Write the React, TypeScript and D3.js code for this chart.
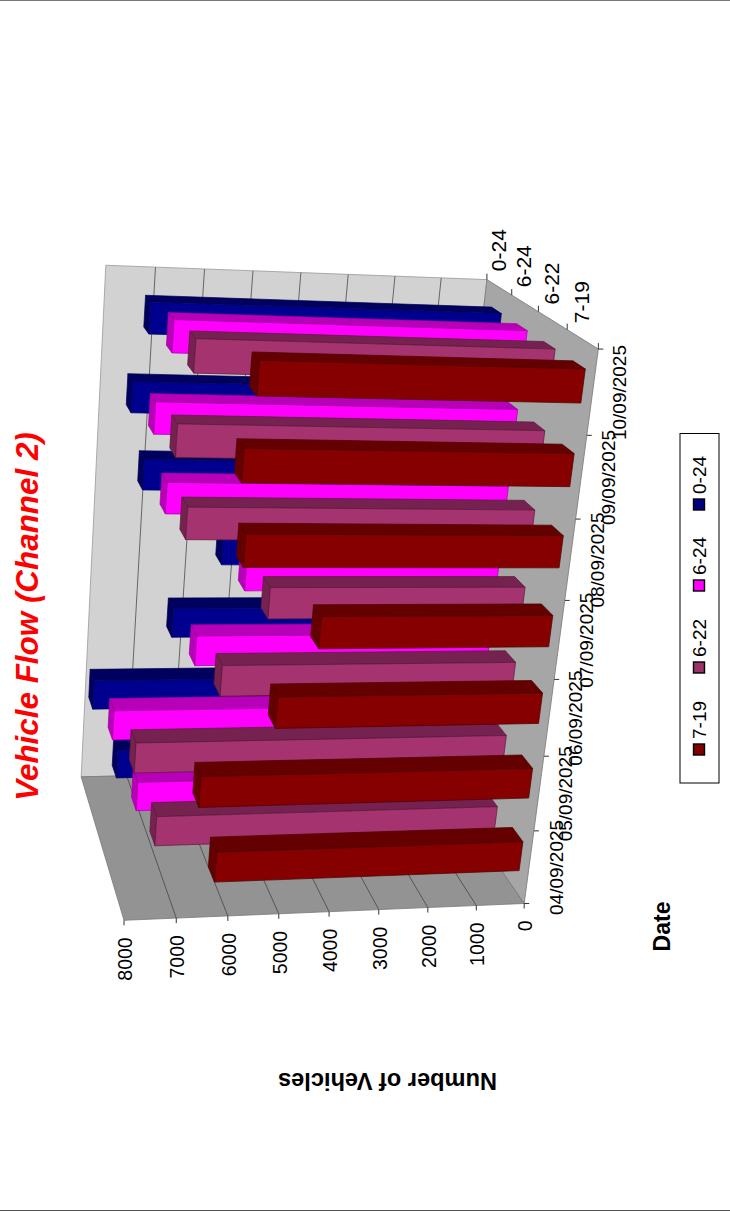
import React from "react";
import * as d3 from "d3";

// Traffic counts per day, one array per time band.
const dates = ["04/09/2025", "05/09/2025", "06/09/2025", "07/09/2025", "08/09/2025", "09/09/2025", "10/09/2025"];
const bands = ["7-19", "6-22", "6-24", "0-24"];
const flow719 = [6200, 6610, 5250, 4550, 6100, 6250, 6090];
const flow622 = [7100, 7600, 6000, 5170, 6880, 7170, 6930];
const flow624 = [7230, 7800, 6210, 5300, 7000, 7320, 7060];
const flow024 = [7410, 7990, 6410, 5460, 7200, 7520, 7250];
const valueTicks = [0, 1000, 2000, 3000, 4000, 5000, 6000, 7000, 8000];

const faceColors = ["#870000", "#A5336F", "#FF00FF", "#00008F"];
const sideColors = ["#640000", "#762250", "#B800B8", "#00005F"];
const swatchColors = ["#800000", "#993366", "#FF00FF", "#000080"];

type Vec3 = [number, number, number];
type Pair = [Vec3, [number, number]];

// Known points of the unit plot box (value, date, depth) on the page.
const boxCorners: Pair[] = [
  [[0, 0, 0], [524, 903]],
  [[1, 0, 0], [124, 920]],
  [[0, 1, 0], [598, 351]],
  [[0, 1, 1], [487, 281]],
  [[1, 1, 1], [106, 265]],
  [[1, 0, 1], [81, 777]],
  [[0, 3 / 7, 0], [555, 680]],
  [[0.5, 0, 0], [329, 912]],
  [[0.5, 1, 1], [301, 273]],
  [[0, 1, 0.5], [538, 308]],
];

// Least-squares fit of a 3x4 perspective matrix with its last element fixed at 1.
function fitCamera(pairs: Pair[]): number[] {
  const rows: number[][] = [];
  const rhs: number[] = [];
  for (const [[a, b, c], [x, y]] of pairs) {
    rows.push([a, b, c, 1, 0, 0, 0, 0, -x * a, -x * b, -x * c]);
    rhs.push(x);
    rows.push([0, 0, 0, 0, a, b, c, 1, -y * a, -y * b, -y * c]);
    rhs.push(y);
  }
  const n = 11;
  const m: number[][] = d3.range(n).map((i) =>
    d3.range(n + 1).map((j) =>
      d3.sum(rows, (r, k) => r[i] * (j === n ? rhs[k] : r[j]))
    )
  );
  for (let i = 0; i < n; i++) {
    let p = i;
    for (let r = i + 1; r < n; r++) if (Math.abs(m[r][i]) > Math.abs(m[p][i])) p = r;
    [m[i], m[p]] = [m[p], m[i]];
    for (let r = 0; r < n; r++) {
      if (r === i) continue;
      const f = m[r][i] / m[i][i];
      for (let c = i; c <= n; c++) m[r][c] -= f * m[i][c];
    }
  }
  return d3.range(n).map((i) => m[i][n] / m[i][i]);
}

const cam = fitCamera(boxCorners);
const project = (u: number, w: number, t: number): [number, number] => {
  const d = cam[8] * u + cam[9] * w + cam[10] * t + 1;
  return [
    (cam[0] * u + cam[1] * w + cam[2] * t + cam[3]) / d,
    (cam[4] * u + cam[5] * w + cam[6] * t + cam[7]) / d,
  ];
};

const valueScale = d3.scaleLinear().domain([0, 8000]).range([0, 1]);
// Gap width and gap depth of 150% leave each bar 40% of its slot.
const dateScale = d3.scaleBand().domain(dates).range([0, 1]).paddingInner(0.6).paddingOuter(0.3);
const depthScale = d3.scaleBand().domain(bands).range([0, 1]).paddingInner(0.6).paddingOuter(0.3);
const dateSlot = d3.scaleBand().domain(dates).range([0, 1]);
const depthSlot = d3.scaleBand().domain(bands).range([0, 1]);

const pts = (corners: [number, number][]) => corners.map((p) => p.join(",")).join(" ");
const line = (a: [number, number], b: [number, number], stroke: string, w = 1) => (
  <line x1={a[0]} y1={a[1]} x2={b[0]} y2={b[1]} stroke={stroke} strokeWidth={w} />
);

function Bar({ band, date, value, i }: { band: string; date: string; value: number; i: number }) {
  const u = valueScale(value);
  const w0 = dateScale(date)!;
  const w1 = w0 + dateScale.bandwidth();
  const t0 = depthScale(band)!;
  const t1 = t0 + depthScale.bandwidth();
  const edge = ["#4a0000", "#5a1a3c", "#A000A0", "#000050"][i];
  return (
    <g stroke={edge} strokeWidth={0.7} strokeLinejoin="round">
      <polygon fill={sideColors[i]} points={pts([project(0, w1, t0), project(u, w1, t0), project(u, w1, t1), project(0, w1, t1)])} />
      <polygon fill={sideColors[i]} points={pts([project(u, w0, t0), project(u, w1, t0), project(u, w1, t1), project(u, w0, t1)])} />
      <polygon fill={faceColors[i]} points={pts([project(0, w0, t0), project(u, w0, t0), project(u, w1, t0), project(0, w1, t0)])} />
    </g>
  );
}

const font = "'Liberation Sans', Arial, sans-serif";

export default function App() {
  const series = [flow719, flow622, flow624, flow024];
  const legendY = [744, 662, 580, 499];
  return (
    <svg width={730} height={1212} style={{ position: "absolute", left: 0, top: 0, display: "block" }} fontFamily={font}>
      <rect width={730} height={1212} fill="#fff" />
      <line x1={0} y1={0.5} x2={730} y2={0.5} stroke="#777" />
      <line x1={0} y1={1210.5} x2={730} y2={1210.5} stroke="#555" />

      {/* Back wall, side wall and floor of the plot box */}
      <polygon fill="#D2D2D2" stroke="#999" strokeWidth={0.8} points={pts([project(0, 0, 1), project(1, 0, 1), project(1, 1, 1), project(0, 1, 1)])} />
      <polygon fill="#939393" stroke="#777" strokeWidth={0.8} points={pts([project(0, 0, 0), project(1, 0, 0), project(1, 0, 1), project(0, 0, 1)])} />
      <polygon fill="#A6A6A6" stroke="#777" strokeWidth={0.8} points={pts([project(0, 0, 0), project(0, 1, 0), project(0, 1, 1), project(0, 0, 1)])} />

      {valueTicks.slice(1, -1).map((v) => {
        const u = valueScale(v);
        return (
          <g key={v}>
            {line(project(u, 1, 1), project(u, 0, 1), "#666", 1)}
            {line(project(u, 0, 1), project(u, 0, 0), "#555", 1)}
          </g>
        );
      })}

      {/* Bars, painted from the back row to the front row */}
      {d3.range(3, -1, -1).map((i) =>
        dates.map((d, j) => <Bar key={bands[i] + d} band={bands[i]} date={d} value={series[i][j]} i={i} />)
      )}

      {/* Value axis */}
      {valueTicks.map((v) => {
        const [x, y] = project(valueScale(v), 0, 0);
        return (
          <g key={v}>
            <line x1={x} y1={y} x2={x} y2={y + 5} stroke="#333" />
            <text transform={`translate(${x + 1},${y + 17}) rotate(-90)`} textAnchor="end" dominantBaseline="central" fontSize={19.5} fill="#000">{v}</text>
          </g>
        );
      })}

      {/* Date axis */}
      {d3.range(dates.length + 1).map((k) => {
        const [x, y] = project(0, k / dates.length, 0);
        return <line key={k} x1={x} y1={y} x2={x + 5} y2={y} stroke="#333" />;
      })}
      {dates.map((d) => {
        const [x, y] = project(0, dateSlot(d)! + dateSlot.bandwidth() / 2, 0);
        return (
          <text key={d} transform={`translate(${x + 27},${y}) rotate(-90)`} textAnchor="middle" dominantBaseline="central" fontSize={19} fill="#000">{d}</text>
        );
      })}

      {/* Depth axis */}
      {d3.range(bands.length + 1).map((k) => {
        const [x, y] = project(0, 1, k / bands.length);
        return <line key={k} x1={x} y1={y} x2={x} y2={y - 6} stroke="#333" />;
      })}
      {bands.map((b) => {
        const [x, y] = project(0, 1, depthSlot(b)! + depthSlot.bandwidth() / 2);
        return (
          <text key={b} transform={`translate(${x - 1},${y - 16}) rotate(-90)`} textAnchor="start" dominantBaseline="central" fontSize={21} fill="#000">{b}</text>
        );
      })}

      {/* Titles */}
      <text transform="translate(27,616.5) rotate(-90)" textAnchor="middle" dominantBaseline="central" fontSize={31.4} fontWeight="bold" fontStyle="italic" fill="#FF0000">Vehicle Flow (Channel 2)</text>
      <text transform="translate(662,926.5) rotate(-90)" textAnchor="middle" dominantBaseline="central" fontSize={23} fontWeight="bold" fill="#000">Date</text>
      <text transform="translate(387.5,1081) rotate(180)" textAnchor="middle" dominantBaseline="central" fontSize={23.6} fontWeight="bold" fill="#000">Number of Vehicles</text>

      {/* Legend */}
      <rect x={680} y={433.5} width={39} height={349.5} fill="#fff" stroke="#000" strokeWidth={1} />
      {bands.map((b, i) => (
        <g key={b}>
          <rect x={693.5} y={legendY[i]} width={11} height={11} fill={swatchColors[i]} stroke="#000" strokeWidth={1.4} />
          <text transform={`translate(699,${legendY[i] - 5}) rotate(-90)`} textAnchor="start" dominantBaseline="central" fontSize={19} fill="#000">{b}</text>
        </g>
      ))}
    </svg>
  );
}
